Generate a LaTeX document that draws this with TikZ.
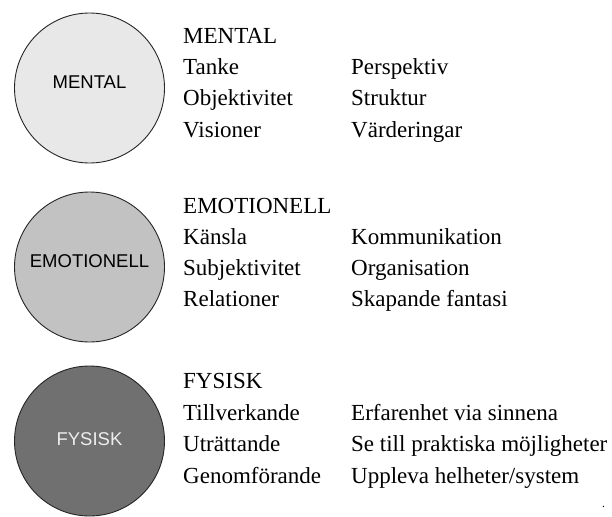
\documentclass[tikz,border=0pt]{standalone}
\usepackage{fontspec}
\setmainfont{Liberation Serif}
\newfontfamily\ballfont{Liberation Sans}
\usepackage{tikz}
\usetikzlibrary{ calc, positioning }
\definecolor{mentalfill}{HTML}{E8E8E8}
\definecolor{emofill}{HTML}{C2C2C2}
\definecolor{fysfill}{HTML}{707070}
\tikzset{
x=1pt, y=-1pt, % picture measured in pixels, y going down
ball/.style={circle, draw=black!85, line width=0.9pt, minimum size=150pt, inner sep=0pt}, % the three circles
balltext/.style={inner sep=0pt, font=\ballfont\fontsize{18.5}{18.5}\selectfont}, % text inside a circle
item/.style={anchor=base west, inner sep=0pt, font=\fontsize{23}{23}\selectfont}, % list entries
}
\begin{document}
\begin{tikzpicture}
  \useasboundingbox (0,0) rectangle (612,516);

  % circles
  \node[ball, fill=mentalfill] (mental) at (89.5,88) {};
  \node[ball, fill=emofill] (emo) at (89.5,267) {};
  \node[ball, fill=fysfill] (fys) at (89.5,441) {};
  \node[balltext] (mentaltxt) at ([yshift=6pt]mental.center) {MENTAL};
  \node[balltext] (emotxt) at ([yshift=6pt]emo.center) {EMOTIONELL};
  \node[balltext, text=white!93!black] (fystxt) at ([yshift=2pt]fys.center) {FYSISK};

  % MENTAL
  \node[item] (mhead) at (183,44) {MENTAL};
  \node[item] (m1) at (183,75) {Tanke};
  \node[item] (m2) at (183,106) {Objektivitet};
  \node[item] (m3) at (183,137) {Visioner};
  \node[item] (m4) at (351,75) {Perspektiv};
  \node[item] (m5) at (351,106) {Struktur};
  \node[item] (m6) at (351,137) {Värderingar};

  % EMOTIONELL
  \node[item] (ehead) at (183,213) {EMOTIONELL};
  \node[item] (e1) at (183,244) {Känsla};
  \node[item] (e2) at (183,275) {Subjektivitet};
  \node[item] (e3) at (183,306) {Relationer};
  \node[item] (e4) at (351,244) {Kommunikation};
  \node[item] (e5) at (351,275) {Organisation};
  \node[item] (e6) at (351,306) {Skapande fantasi};

  % FYSISK
  \node[item] (fhead) at (183,388) {FYSISK};
  \node[item] (f1) at (183,420) {Tillverkande};
  \node[item] (f2) at (183,451) {Uträttande};
  \node[item] (f3) at (183,483) {Genomförande};
  \node[item] (f4) at (351,420) {Erfarenhet via sinnena};
  \node[item] (f5) at (351,451) {Se till praktiska möjligheter};
  \node[item] (f6) at (351,483) {Uppleva helheter/system};

  \node[item, font=\fontsize{12}{12}\selectfont] (dot) at (602,507) {.};
\end{tikzpicture}
\end{document}
